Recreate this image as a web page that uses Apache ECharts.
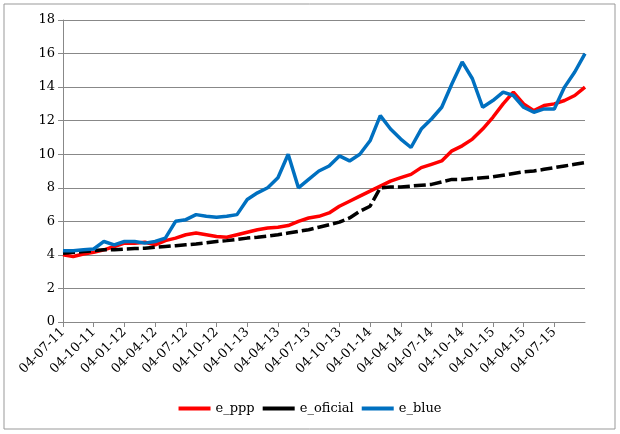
<!DOCTYPE html>
<html>
<head>
<meta charset="utf-8">
<script src="https://cdn.jsdelivr.net/npm/echarts@6/dist/echarts.min.js"></script>
<style>
  html, body { margin: 0; padding: 0; background: #fff; }
  #main { width: 620px; height: 434px; }
</style>
</head>
<body>
<div id="main"></div>
<script>
// monthly points, Jul 2011 .. Oct 2015
var months = [];
for (var y = 11; y <= 15; y++) {
    for (var m = 1; m <= 12; m++) {
        if ((y === 11 && m < 7) || (y === 15 && m > 10)) continue;
        months.push('04-' + (m < 10 ? '0' + m : m) + '-' + y);
    }
}

var ePpp = [4.0, 3.9, 4.05, 4.15, 4.3, 4.5, 4.7, 4.7, 4.75, 4.6, 4.85, 5.0,
    5.2, 5.3, 5.2, 5.1, 5.05, 5.2, 5.35, 5.5, 5.6, 5.65, 5.75, 6.0,
    6.2, 6.3, 6.5, 6.9, 7.2, 7.5, 7.8, 8.1, 8.4, 8.6, 8.8, 9.2,
    9.4, 9.6, 10.2, 10.5, 10.9, 11.5, 12.2, 13.0, 13.7, 13.0, 12.6, 12.9,
    13.0, 13.2, 13.5, 14.0];
var eOficial = [4.1, 4.15, 4.2, 4.25, 4.3, 4.3, 4.35, 4.38, 4.4, 4.45, 4.5, 4.55,
    4.6, 4.65, 4.72, 4.8, 4.85, 4.92, 5.0, 5.05, 5.12, 5.2, 5.3, 5.4,
    5.5, 5.65, 5.8, 5.95, 6.2, 6.6, 6.9, 8.0, 8.05, 8.05, 8.1, 8.15,
    8.2, 8.35, 8.5, 8.5, 8.55, 8.6, 8.65, 8.75, 8.85, 8.95, 9.0, 9.1,
    9.2, 9.3, 9.4, 9.5];
var eBlue = [4.25, 4.25, 4.3, 4.35, 4.8, 4.6, 4.8, 4.8, 4.7, 4.8, 5.0, 6.0,
    6.1, 6.4, 6.3, 6.25, 6.3, 6.4, 7.3, 7.7, 8.0, 8.6, 10.0, 8.0,
    8.5, 9.0, 9.3, 9.9, 9.6, 10.0, 10.8, 12.3, 11.5, 10.9, 10.4, 11.5,
    12.1, 12.8, 14.2, 15.5, 14.5, 12.8, 13.2, 13.7, 13.5, 12.8, 12.5, 12.7,
    12.7, 14.0, 14.9, 16.0];
var yTicks = [0, 18, 2];

var chart = echarts.init(document.getElementById('main'));
var font = 'DejaVu Serif';

// quarterly labels, last (partial) quarter unlabelled
function quarterly(i) { return i % 3 === 0 && i < months.length - 1; }

chart.setOption({
    animation: false,
    textStyle: { fontFamily: font },
    graphic: [{
        type: 'rect', shape: { x: 4, y: 4, width: 611, height: 425 },
        style: { fill: 'none', stroke: '#999', lineWidth: 1 }
    }],
    grid: { left: 63, right: 35, top: 20, bottom: 112 },
    legend: {
        bottom: 14, itemWidth: 32, itemHeight: 4, itemGap: 8,
        icon: 'rect',
        textStyle: { fontFamily: font, fontSize: 13, color: '#000' },
        data: ['e_ppp', 'e_oficial', 'e_blue']
    },
    xAxis: {
        type: 'category', boundaryGap: false, data: months,
        axisLine: { lineStyle: { color: '#888' } },
        axisTick: { interval: quarterly, lineStyle: { color: '#888' } },
        axisLabel: { interval: quarterly, rotate: 45, color: '#000', fontSize: 13, fontFamily: font }
    },
    yAxis: {
        type: 'value', min: yTicks[0], max: yTicks[1], interval: yTicks[2],
        axisLine: { show: true, lineStyle: { color: '#888' } },
        axisTick: { show: true, lineStyle: { color: '#888' } },
        axisLabel: { color: '#000', fontSize: 13, fontFamily: font },
        splitLine: { lineStyle: { color: '#888' } }
    },
    series: [
        { name: 'e_ppp', type: 'line', data: ePpp, showSymbol: false,
          lineStyle: { width: 3.5, color: '#ff0000' }, itemStyle: { color: '#ff0000' } },
        { name: 'e_oficial', type: 'line', data: eOficial, showSymbol: false,
          lineStyle: { width: 3.5, color: '#000', type: [12, 4] }, itemStyle: { color: '#000' } },
        { name: 'e_blue', type: 'line', data: eBlue, showSymbol: false,
          lineStyle: { width: 3.5, color: '#0070c0' }, itemStyle: { color: '#0070c0' } }
    ]
});
</script>
</body>
</html>
